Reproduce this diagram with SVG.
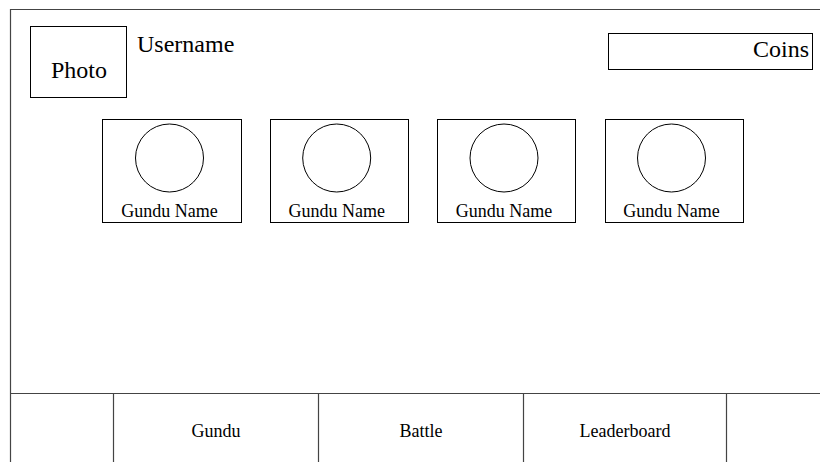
<svg xmlns="http://www.w3.org/2000/svg" width="820" height="462" viewBox="0 0 820 462">
<style>
.ln{fill:none;stroke:#000;stroke-width:1}
.fr{fill:none;stroke:#444;stroke-width:1.2}
text{font-family:"Liberation Serif","Times New Roman",Tinos,"DejaVu Serif",serif;fill:#000}
.t24{font-size:24px}
.t18{font-size:18px}
</style>
<rect width="820" height="462" fill="#fff"/>
<g id="frame">
<path class="fr" d="M10.5,462 V9.5 H820"/>
</g>
<g id="photo">
<rect class="ln" x="30.5" y="26.5" width="96" height="71"/>
<text class="t24" x="79" y="78" text-anchor="middle" font-family="Liberation Serif, serif">Photo</text>
</g>
<g id="username">
<text class="t24" x="137" y="52" font-family="Liberation Serif, serif">Username</text>
</g>
<g id="coins">
<rect class="ln" x="608.5" y="33.5" width="204" height="36"/>
<text class="t24" x="809" y="57" text-anchor="end" font-family="Liberation Serif, serif">Coins</text>
</g>
<g id="gundu1">
<rect class="ln" x="102.5" y="119.5" width="139" height="103"/>
<circle class="ln" cx="169.5" cy="158" r="34"/>
<text class="t18" x="169.5" y="217" text-anchor="middle" font-family="Liberation Serif, serif">Gundu Name</text>
</g>
<g id="gundu2">
<rect class="ln" x="270.5" y="119.5" width="138" height="103"/>
<circle class="ln" cx="336.7" cy="158" r="34"/>
<text class="t18" x="336.7" y="217" text-anchor="middle" font-family="Liberation Serif, serif">Gundu Name</text>
</g>
<g id="gundu3">
<rect class="ln" x="437.5" y="119.5" width="138" height="103"/>
<circle class="ln" cx="504" cy="158" r="34"/>
<text class="t18" x="504" y="217" text-anchor="middle" font-family="Liberation Serif, serif">Gundu Name</text>
</g>
<g id="gundu4">
<rect class="ln" x="605.5" y="119.5" width="138" height="103"/>
<circle class="ln" cx="671.5" cy="158" r="34"/>
<text class="t18" x="671.5" y="217" text-anchor="middle" font-family="Liberation Serif, serif">Gundu Name</text>
</g>
<g id="connectors">
<path class="fr" d="M10.5,393.5 H820 M113.5,393.5 V462 M318.5,393.5 V462 M523.5,393.5 V462 M726.5,393.5 V462"/>
</g>
<g id="tab-gundu"><text class="t18" x="216" y="437" text-anchor="middle" font-family="Liberation Serif, serif">Gundu</text></g>
<g id="tab-battle"><text class="t18" x="421" y="437" text-anchor="middle" font-family="Liberation Serif, serif">Battle</text></g>
<g id="tab-leaderboard"><text class="t18" x="625" y="437" text-anchor="middle" font-family="Liberation Serif, serif">Leaderboard</text></g>
</svg>
